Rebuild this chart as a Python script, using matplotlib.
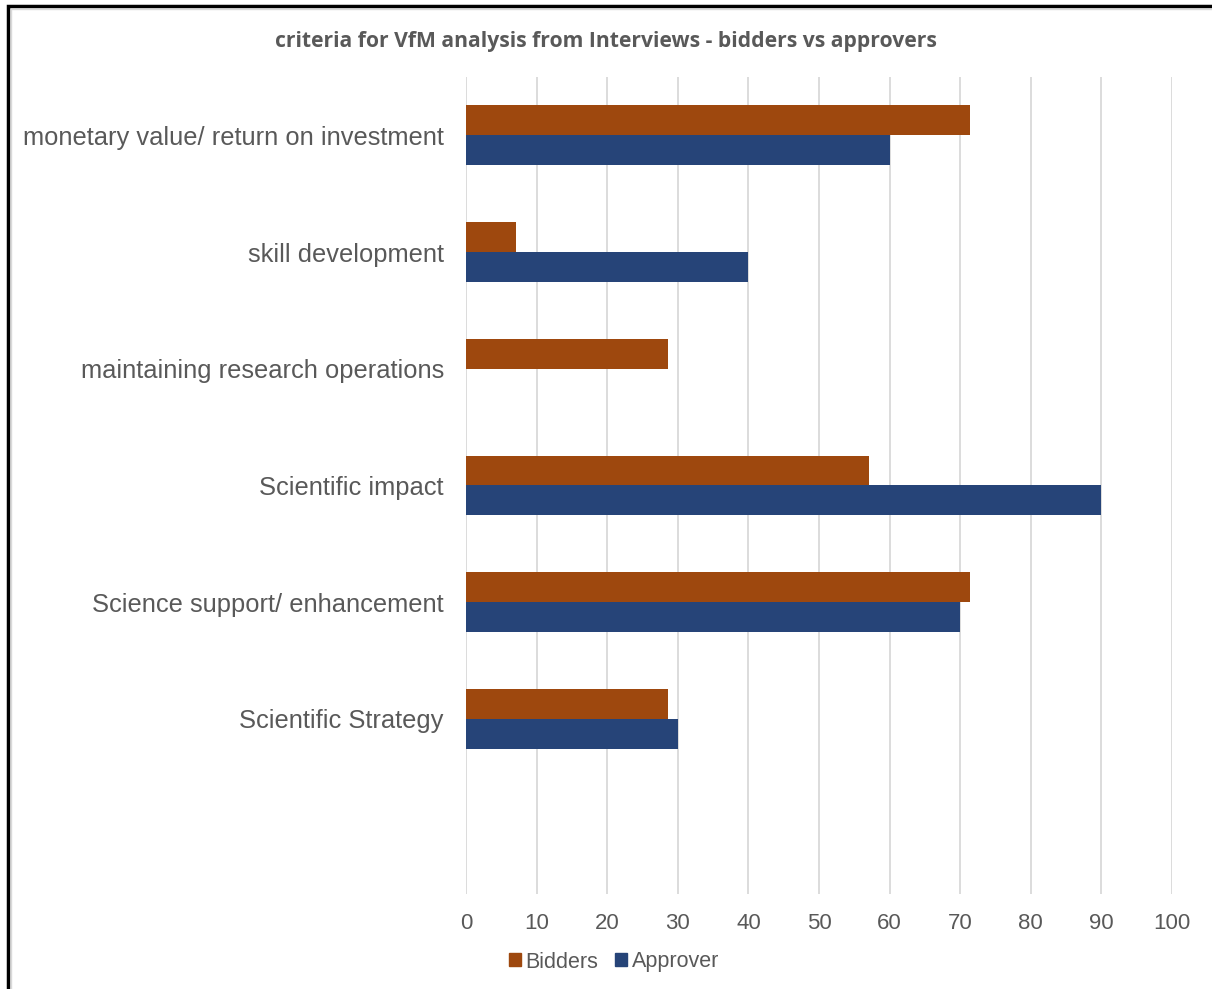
import numpy as np
import matplotlib.pyplot as plt
from matplotlib.patches import Patch, Rectangle

# ---------------------------------------------------------------------------
# Data (bottom to top, Excel category order; first slot is an empty category)
# ---------------------------------------------------------------------------
categories = ["", "Scientific Strategy", "Science support/ enhancement",
              "Scientific impact", "maintaining research operations",
              "skill development", "monetary value/ return on investment"]
bidders = [0, 28.6, 71.4, 57.1, 28.6, 7.1, 71.4]
approver = [0, 30, 70, 90, 0, 40, 60]
xticks = list(range(0, 101, 10))

C_BID = "#9E480E"
C_APP = "#264478"
TXT = "#595959"

plt.rcParams["font.family"] = ["Liberation Sans", "DejaVu Sans"]

fig = plt.figure(figsize=(12.12, 9.89), dpi=100)
ax = fig.add_axes([466 / 1212, 1 - 894 / 989, (1172 - 466) / 1212, (894 - 77) / 989])

y = np.arange(len(categories))
h = 0.256
ax.barh(y + h / 2, bidders, height=h, color=C_BID, label="Bidders", zorder=3)
ax.barh(y - h / 2, approver, height=h, color=C_APP, label="Approver", zorder=3)

ax.set_xlim(0, 100)
ax.set_ylim(-0.5, len(categories) - 0.5)
ax.set_xticks(xticks)
ax.set_yticks(y)
ax.set_yticklabels(categories)
ax.tick_params(axis="both", length=0, colors=TXT, labelsize=16)
ax.tick_params(axis="y", pad=16, labelsize=18.4)
ax.tick_params(axis="x", pad=14)
ax.grid(axis="x", color="#D9D9D9", linewidth=1.3, zorder=0)
for s in ax.spines.values():
    s.set_visible(False)

fig.text(0.5, 1 - 41 / 989, "criteria for VfM analysis from Interviews - bidders vs approvers",
         ha="center", va="center", fontsize=15.2, fontweight="bold", color=TXT,
         family=["Open Sans", "DejaVu Sans"])

handles = [Patch(color=C_BID), Patch(color=C_APP)]
fig.legend(handles, ["Bidders", "Approver"], loc="center", bbox_to_anchor=(614 / 1212, 1 - 962 / 989),
           ncol=2, frameon=False, fontsize=15.5, labelcolor=TXT, handlelength=0.55,
           handleheight=0.55, handletextpad=0.2, columnspacing=0.8)

# chart frame
fig.patches.append(Rectangle((8 / 1212, -0.01), 1.02, 1 - 6 / 989 + 0.01, transform=fig.transFigure,
                             fill=False, edgecolor="black", linewidth=2.5))
fig.patches.append(Rectangle((11 / 1212, -0.01), 1.02, 1 - 9 / 989 + 0.01, transform=fig.transFigure,
                             fill=False, edgecolor="#D9D9D9", linewidth=1))

fig.savefig("out.png", dpi=100)
